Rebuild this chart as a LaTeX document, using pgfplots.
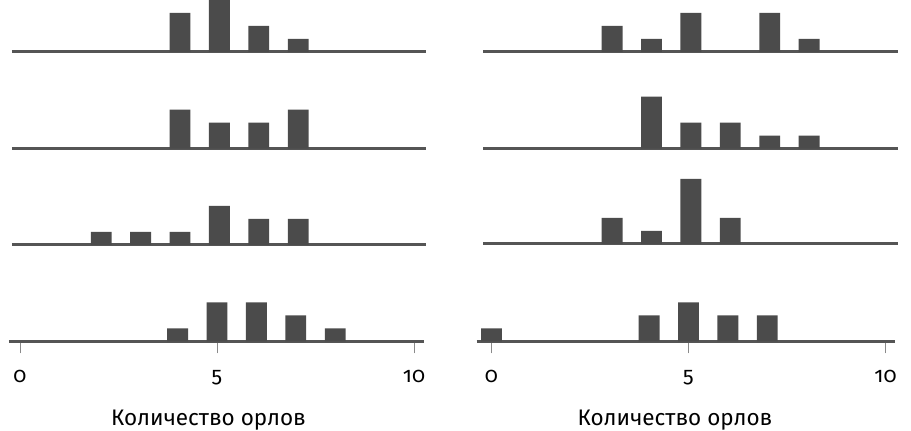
\documentclass[border=0pt]{standalone}
\usepackage{fontspec}
\setmainfont{Fira Sans}[Numbers=OldStyle]
\usepackage{pgfplots}
\pgfplotsset{compat=1.18}
\definecolor{barc}{HTML}{4B4B4B}
\definecolor{linec}{HTML}{555555}
\definecolor{tickc}{HTML}{8A8A8A}
\pgfplotsset{
  row/.style={
    x=39.4pt, y=13pt, ymin=0, ymax=5,
    anchor=origin, clip=false,
    hide y axis, axis x line=bottom,
    x axis line style={draw=none},
    xtick=\empty,
  },
  bottomrow/.style={
    xtick={0,5,10}, tick align=outside, major tick length=12pt,
    xtick style={color=tickc, line width=0.9pt},
    /pgf/number format/assume math mode=true,
    xticklabel style={font=\fontsize{21.5}{21.5}\selectfont, anchor=base, yshift=-29pt, text=black},
  },
  bars/.style={ybar, bar width=0.53, fill=barc, draw=none},
  base/.style={line width=3pt, color=linec, mark=none},
}
\begin{document}
\begin{tikzpicture}
\path[use as bounding box] (0,0) rectangle (911pt,431pt);
% left column
\begin{axis}[row, at={(22.4pt,379pt)}, xmin=-0.27, xmax=10.25]
\addplot[base] coordinates {(-0.27,0) (10.25,0)};
\addplot[bars] coordinates {(4,3) (5,4) (6,2) (7,1)};
\end{axis}
\begin{axis}[row, at={(22.4pt,282.3pt)}, xmin=-0.27, xmax=10.25]
\addplot[base] coordinates {(-0.27,0) (10.25,0)};
\addplot[bars] coordinates {(4,3) (5,2) (6,2) (7,3)};
\end{axis}
\begin{axis}[row, at={(22.4pt,186pt)}, xmin=-0.27, xmax=10.25]
\addplot[base] coordinates {(-0.27,0) (10.25,0)};
\addplot[bars] coordinates {(2,1) (3,1) (4,1) (5,3) (6,2) (7,2)};
\end{axis}
\begin{axis}[row, bottomrow, at={(20pt,89.7pt)}, xmin=-0.28, xmax=10.25]
\addplot[base] coordinates {(-0.28,0) (10.25,0)};
\addplot[bars] coordinates {(4,1) (5,3) (6,3) (7,2) (8,1)};
\end{axis}
% right column
\begin{axis}[row, at={(493.9pt,379pt)}, xmin=-0.27, xmax=10.26]
\addplot[base] coordinates {(-0.27,0) (10.26,0)};
\addplot[bars] coordinates {(3,2) (4,1) (5,3) (7,3) (8,1)};
\end{axis}
\begin{axis}[row, at={(493.9pt,282.3pt)}, xmin=-0.27, xmax=10.26]
\addplot[base] coordinates {(-0.27,0) (10.26,0)};
\addplot[bars] coordinates {(4,4) (5,2) (6,2) (7,1) (8,1)};
\end{axis}
\begin{axis}[row, at={(493.9pt,187pt)}, xmin=-0.27, xmax=10.26]
\addplot[base] coordinates {(-0.27,0) (10.26,0)};
\addplot[bars] coordinates {(3,2) (4,1) (5,5) (6,2)};
\end{axis}
\begin{axis}[row, bottomrow, at={(491.5pt,89.7pt)}, xmin=-0.375, xmax=10.25]
\addplot[base] coordinates {(-0.375,0) (10.25,0)};
\addplot[bars] coordinates {(0,1) (4,2) (5,3) (6,2) (7,2)};
\end{axis}
\node[anchor=base, font=\fontsize{22.5}{22.5}\selectfont] at (208.5pt,5pt) {Количество орлов};
\node[anchor=base, font=\fontsize{22.5}{22.5}\selectfont] at (675pt,5pt) {Количество орлов};
\end{tikzpicture}
\end{document}
